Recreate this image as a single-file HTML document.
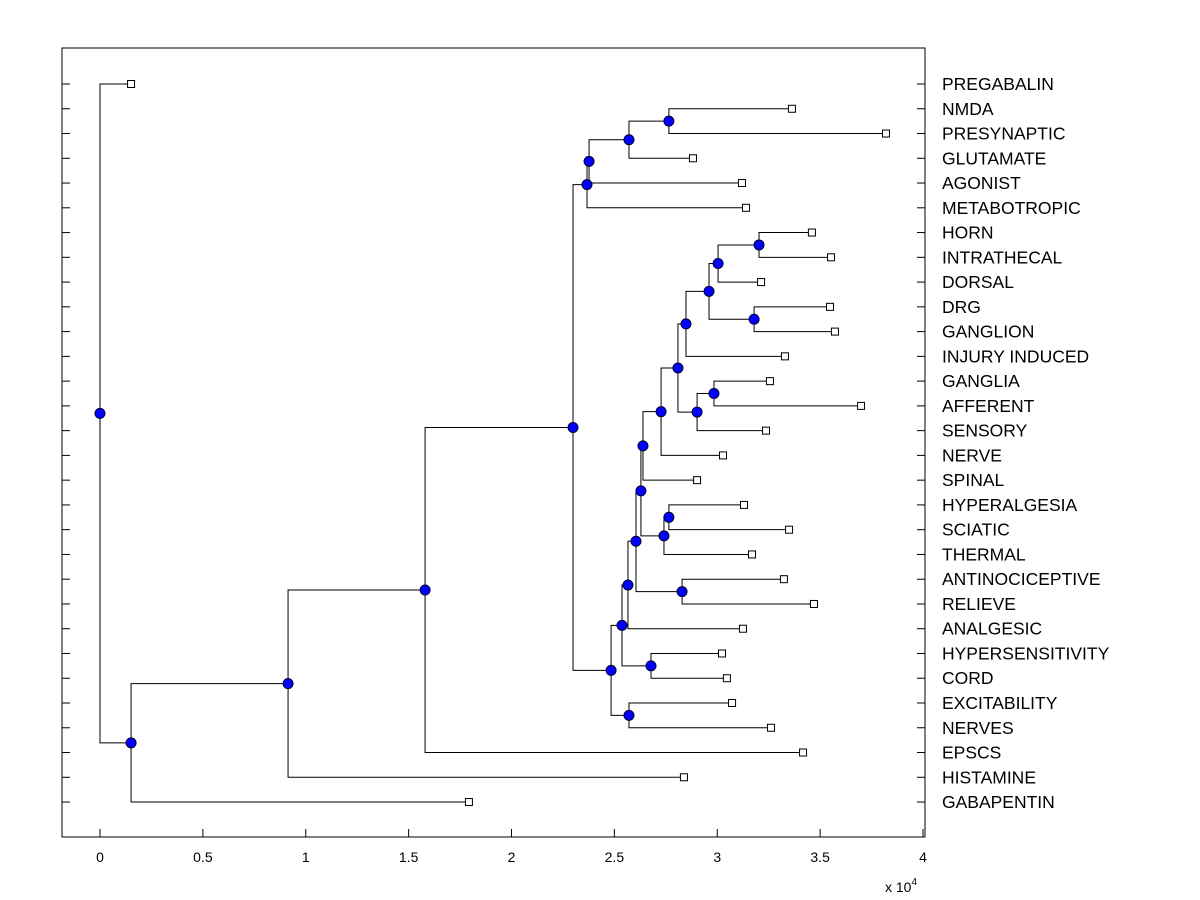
<!DOCTYPE html>
<html><head><meta charset="utf-8"><style>
html,body{margin:0;padding:0;background:#fff}
svg{display:block;font-family:"Liberation Sans",Arial,sans-serif}
</style></head><body>
<svg id="chart" width="1200" height="900">
<rect x="0" y="0" width="1200" height="900" fill="#fff"/>
<rect x="62" y="48" width="863" height="789" fill="none" stroke="#000" stroke-width="1"/>
<g id="g"></g>
</svg>
<script>
const labels=["PREGABALIN","NMDA","PRESYNAPTIC","GLUTAMATE","AGONIST","METABOTROPIC","HORN","INTRATHECAL","DORSAL","DRG","GANGLION","INJURY INDUCED","GANGLIA","AFFERENT","SENSORY","NERVE","SPINAL","HYPERALGESIA","SCIATIC","THERMAL","ANTINOCICEPTIVE","RELIEVE","ANALGESIC","HYPERSENSITIVITY","CORD","EXCITABILITY","NERVES","EPSCS","HISTAMINE","GABAPENTIN"];
const leafValues=[0.151,3.363,3.820,2.882,3.120,3.140,3.460,3.553,3.213,3.548,3.572,3.329,3.256,3.699,3.237,3.028,2.902,3.130,3.349,3.169,3.324,3.470,3.125,3.023,3.047,3.072,3.261,3.417,2.838,1.793];
const mergeA=[1,30,31,32,6,34,9,35,37,12,39,38,41,42,17,44,43,20,46,48,23,49,25,51,33,54,55,56,0];
const mergeB=[2,3,4,5,7,8,10,36,11,13,14,40,15,16,18,19,45,21,47,22,24,50,26,52,53,27,28,29,57];
const mergeH=[2.765,2.571,2.377,2.367,3.203,3.004,3.179,2.960,2.848,2.984,2.902,2.809,2.727,2.639,2.765,2.741,2.629,2.829,2.605,2.566,2.678,2.537,2.571,2.484,2.299,1.580,0.914,0.151,0];
const xTicks=[0,0.5,1,1.5,2,2.5,3,3.5,4];
const xTickLabels=["0","0.5","1","1.5","2","2.5","3","3.5","4"];

const NS="http://www.w3.org/2000/svg";
const g=document.getElementById('g');
const X=v=>100+v*205.75;
const Y=i=>84+i*24.76;
function mk(t,a){const e=document.createElementNS(NS,t);for(const k in a)e.setAttribute(k,a[k]);g.appendChild(e);return e;}

labels.forEach((l,i)=>{
  let t1=mk('line',{x1:62,x2:70,y1:Y(i),y2:Y(i),stroke:'#000'});
  
  
  let t2=mk('line',{x1:917,x2:925,y1:Y(i),y2:Y(i),stroke:'#000'});
  
  
  let tx=mk('text',{x:942,y:Y(i)+6,'font-size':17.5});
  tx.textContent=l;
  
  
});
xTicks.forEach((v,i)=>{
  let tl=mk('line',{x1:X(v),x2:X(v),y1:837,y2:829,stroke:'#000'});
  
  
  let tx=mk('text',{x:X(v),y:862,'font-size':14,'text-anchor':'middle'});
  tx.textContent=xTickLabels[i];
  
  
});
let ex=mk('text',{x:885,y:892,'font-size':14});
ex.innerHTML='x 10<tspan dy="-7" font-size="10">4</tspan>';



const nx=[],ny=[];
leafValues.forEach((v,i)=>{nx[i]=X(v);ny[i]=Y(i);});
mergeH.forEach((h,k)=>{const id=30+k,a=mergeA[k],b=mergeB[k];nx[id]=X(h);ny[id]=(ny[a]+ny[b])/2;});
mergeH.forEach((h,k)=>{
  const id=30+k,a=mergeA[k],b=mergeB[k];
  let p=mk('path',{d:`M${nx[a]},${ny[a]}H${nx[id]}V${ny[b]}H${nx[b]}`,fill:'none',stroke:'#000','stroke-width':1});
  
  
});
leafValues.forEach((v,i)=>{
  let r=mk('rect',{x:nx[i]-3.5,y:ny[i]-3.5,width:7,height:7,fill:'#fff',stroke:'#000'});
  
  
});
mergeH.forEach((h,k)=>{
  const id=30+k;
  let c=mk('circle',{cx:nx[id],cy:ny[id],r:5,fill:'#0000ff',stroke:'#000030','stroke-width':1});
  
  
});
</script>
</body></html>
